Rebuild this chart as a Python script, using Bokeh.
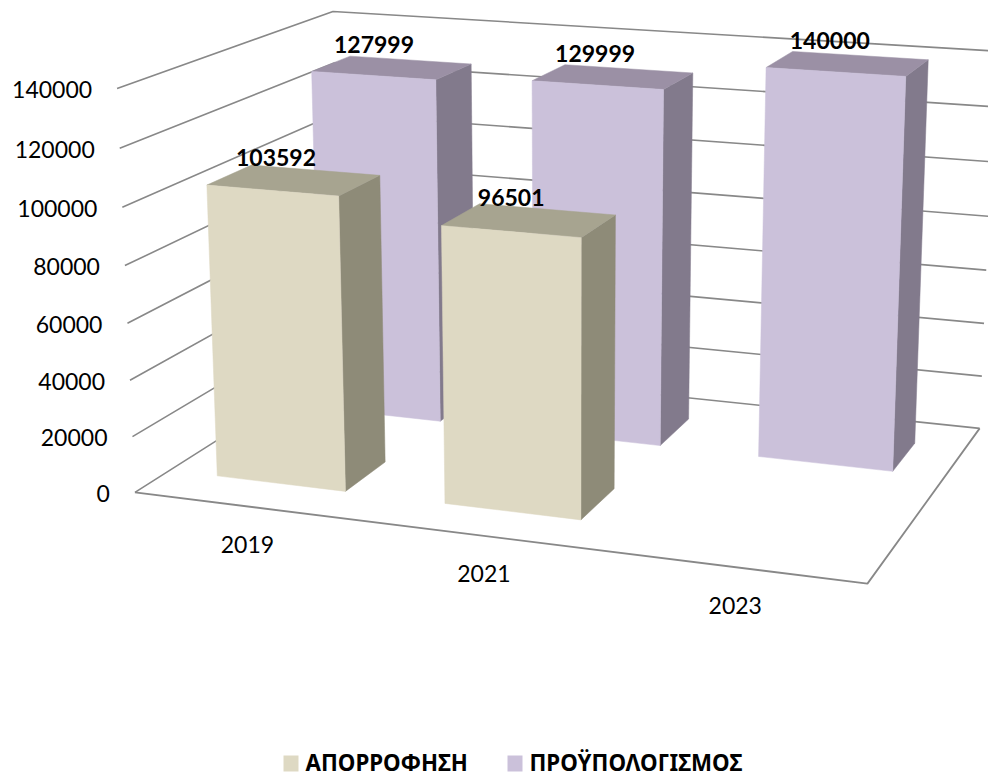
import numpy as np
from bokeh.embed import file_html
from bokeh.resources import INLINE
from bokeh.plotting import figure
from bokeh.models import Range1d
from bokeh.core.properties import value

categories = ["2019", "2021", "2023"]
absorption = [103592, 96501, None]
budget = [127999, 129999, 140000]
ticks = [0, 20000, 40000, 60000, 80000, 100000, 120000, 140000]
series_names = ["ΑΠΟΡΡΟΦΗΣΗ", "ΠΡΟΫΠΟΛΟΓΙΣΜΟΣ"]
ZMAX = 140000.0
BAR_MARGIN = 0.215
DEPTH_FRONT = (0.15, 0.35)
DEPTH_BACK = (0.65, 0.85)
FACE_FRONT = ("#DED9C3", "#A7A490", "#8E8B78")
FACE_BACK = ("#CBC1DA", "#9B90A5", "#827A8C")
GRID = "#888888"

# camera calibration: box corners (category, depth, value/max) -> page pixels
world = [(0,0,0),(3,0,0),(3,1,0),(0,1,0),(0,0,1),(0,1,1),(3,1,1)]
pix = [(134,492),(867,583),(979,428),(341,361),(117,88),(332,11),(995,50.5)]
A = []; b = []
for (X,Y,Z),(u,v) in zip(world,pix):
    A.append([X,Y,Z,1,0,0,0,0,-u*X,-u*Y,-u*Z]); b.append(u)
    A.append([0,0,0,0,X,Y,Z,1,-v*X,-v*Y,-v*Z]); b.append(v)
s = np.linalg.lstsq(np.array(A,float),np.array(b,float),rcond=None)[0]
P = np.append(s,1).reshape(3,4)
def proj(x,d,v):
    h = P@np.array([x,d,v/ZMAX,1.0])
    return h[0]/h[2],h[1]/h[2]

p = figure(width=988,height=774,x_range=Range1d(0,988),y_range=Range1d(774,0),
           output_backend="svg",toolbar_location=None,min_border=0)
p.axis.visible = False; p.grid.visible = False; p.outline_line_color = None

# walls
for v in ticks:
    pts = [proj(0,0,v),proj(0,1,v),proj(3,1,v)]
    p.line([q[0] for q in pts],[q[1] for q in pts],line_color=GRID,line_width=1.6)
pts = [proj(0,0,0),proj(3,0,0),proj(3,1,0)]
p.line([q[0] for q in pts],[q[1] for q in pts],line_color=GRID,line_width=1.8)

def face(corners,color):
    pts = [proj(*c) for c in corners]
    p.patch([q[0] for q in pts],[q[1] for q in pts],fill_color=color,line_color=color,line_width=0.5)

def bar(i,val,depth,colors):
    x0,x1 = i+BAR_MARGIN,i+1-BAR_MARGIN
    d0,d1 = depth
    face([(x1,d0,0),(x1,d1,0),(x1,d1,val),(x1,d0,val)],colors[2])
    face([(x0,d0,val),(x1,d0,val),(x1,d1,val),(x0,d1,val)],colors[1])
    face([(x0,d0,0),(x1,d0,0),(x1,d0,val),(x0,d0,val)],colors[0])

labels = []
for i,val in enumerate(budget):
    bar(i,val,DEPTH_BACK,FACE_BACK)
    labels.append((i,val,DEPTH_BACK))
for i,val in enumerate(absorption):
    if val is not None:
        bar(i,val,DEPTH_FRONT,FACE_FRONT)
        labels.append((i,val,DEPTH_FRONT))

# data labels
for i,val,(d0,d1) in labels:
    x,y = proj(i+0.5,(d0+d1)/2,val)
    p.text([x-18],[y-23],text=[str(val)],text_font=value("Lato"),text_font_style="bold",
           text_font_size="23px",text_align="center",text_baseline="middle",text_color="#000000")

# value ticks
for v in ticks:
    x,y = proj(0,0,v)
    p.text([x-25],[y+1],text=[str(v)],text_font=value("Lato"),text_font_size="23px",
           text_align="right",text_baseline="middle",text_color="#000000")

# category labels
for i,c in enumerate(categories):
    x,y = proj(i+0.5,0,0)
    p.text([x-0.5],[y+38],text=[c],text_font=value("Lato"),text_font_size="23px",
           text_align="center",text_baseline="middle",text_color="#000000")

# legend
for swatch_x,text_x,name,col in zip((283,507),(305,529),series_names,(FACE_FRONT[0],FACE_BACK[0])):
    p.quad(left=[swatch_x],right=[swatch_x+15],top=[755],bottom=[771],fill_color=col,line_color=None)
    p.text([text_x],[762],text=[name],text_font=value("Noto Sans"),text_font_style="bold",
           text_font_size="22.3px",text_align="left",text_baseline="middle",text_color="#000000")

open("out.html","w").write(file_html(p,INLINE))
